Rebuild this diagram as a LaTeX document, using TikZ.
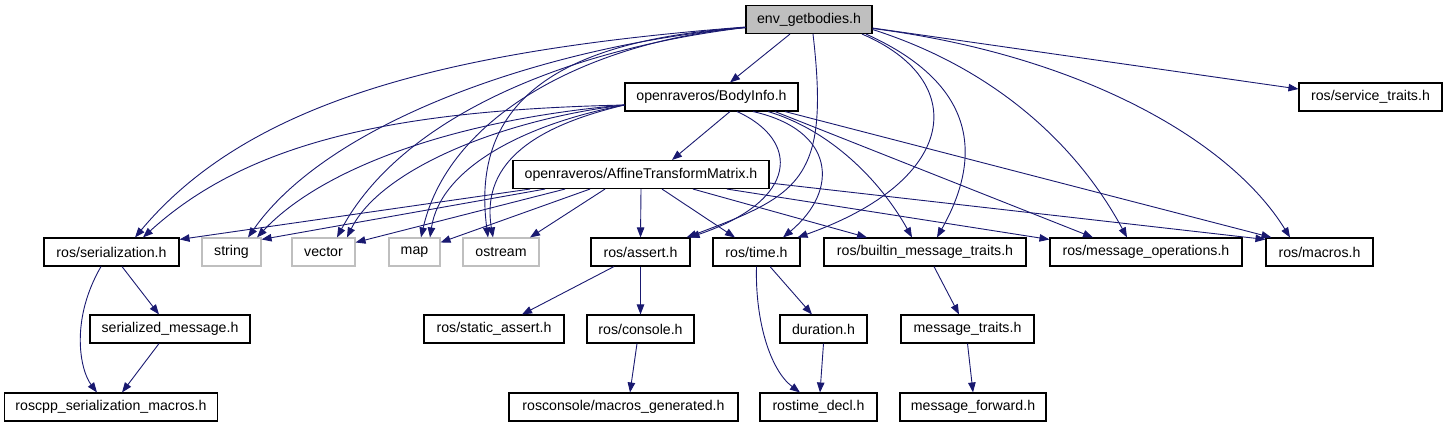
\documentclass[tikz,border=0pt]{standalone}
\usepackage{fontspec}
\setmainfont{Liberation Sans}
\usetikzlibrary{arrows.meta}
\definecolor{edgeblue}{HTML}{191970}
\definecolor{lightgray}{HTML}{BFBFBF}
\tikzset{hdr/.style={draw=black, line width=1.1bp, fill=white, minimum height=28bp, inner sep=0pt, font=\fontsize{14.2}{16}\selectfont}}
\tikzset{sys/.style={hdr, draw=lightgray}}
\tikzset{topfile/.style={hdr, fill=lightgray}}
\tikzset{inc/.style={-{Triangle[length=10bp,width=7.5bp]}, draw=edgeblue, line width=0.9bp}}

\begin{document}
\begin{tikzpicture}[x=1bp, y=-1bp]
\useasboundingbox (0,0) rectangle (1447,427);

\node[topfile, minimum width=126bp] (env) at (809,19.5) {env\_getbodies.h};
\node[hdr, minimum width=173bp] (body) at (711.5,97) {openraveros/BodyInfo.h};
\node[hdr, minimum width=143bp] (svc) at (1370.5,97) {ros/service\_traits.h};
\node[hdr, minimum width=256bp] (aff) at (641,174.5) {openraveros/AffineTransformMatrix.h};

\node[hdr, minimum width=135bp] (ser) at (111.5,252) {ros/serialization.h};
\node[sys, minimum width=59bp] (str) at (231.5,252) {string};
\node[sys, minimum width=63bp] (vec) at (323.5,252) {vector};
\node[sys, minimum width=51bp] (map) at (414.5,252) {map};
\node[sys, minimum width=76bp] (ost) at (501,252) {ostream};
\node[hdr, minimum width=99bp] (ast) at (640.5,252) {ros/assert.h};
\node[hdr, minimum width=87bp] (time) at (756.5,252) {ros/time.h};
\node[hdr, minimum width=202bp] (bmt) at (925,252) {ros/builtin\_message\_traits.h};
\node[hdr, minimum width=192bp] (mop) at (1146,252) {ros/message\_operations.h};
\node[hdr, minimum width=107bp] (mac) at (1319.5,252) {ros/macros.h};

\node[hdr, minimum width=160bp] (sermsg) at (170,329) {serialized\_message.h};
\node[hdr, minimum width=140bp] (sas) at (494,329) {ros/static\_assert.h};
\node[hdr, minimum width=107bp] (con) at (640.5,329) {ros/console.h};
\node[hdr, minimum width=87bp] (dur) at (823.5,329) {duration.h};
\node[hdr, minimum width=133bp] (mtr) at (967.5,329) {message\_traits.h};

\node[hdr, minimum width=213bp] (rsm) at (111,407) {roscpp\_serialization\_macros.h};
\node[hdr, minimum width=229bp] (rmg) at (623.5,407) {rosconsole/macros\_generated.h};
\node[hdr, minimum width=117bp] (rtd) at (818.5,407) {rostime\_decl.h};
\node[hdr, minimum width=146bp] (mfw) at (973,407) {message\_forward.h};

% env_getbodies.h
\draw[inc] ([xshift=-19bp]env.south) -- ([xshift=18.5bp]body.north);
\draw[inc] ([yshift=-8.5bp]env.east) -- ([yshift=8bp]svc.west);
\draw[inc] ([yshift=-7.5bp]env.west) .. controls (450,50) and (250,100) .. ([xshift=23.5bp]ser.north);
\draw[inc] ([yshift=-8bp]env.west) .. controls (550,45) and (330,120) .. ([xshift=16.5bp]str.north);
\draw[inc] ([yshift=-8bp]env.west) .. controls (560,50) and (400,120) .. ([xshift=13.5bp]vec.north);
\draw[inc] ([yshift=-8bp]env.west) .. controls (600,40) and (450,110) .. ([xshift=6.5bp]map.north);
\draw[inc] ([yshift=-8bp]env.west) .. controls (560,40) and (470,100) .. ([xshift=-13bp]ost.north);
\draw[inc] ([xshift=4bp]env.south) .. controls (830,180) and (800,195) .. ([xshift=-4bp]ast.north east);
\draw[inc] ([xshift=53bp]env.south) .. controls (970,80) and (960,180) .. ([xshift=-3bp]time.north east);
\draw[inc] ([xshift=57bp]env.south) .. controls (990,90) and (975,170) .. ([xshift=12bp]bmt.north);
\draw[inc] ([yshift=-10bp]env.east) .. controls (1000,70) and (1080,150) .. ([xshift=-19bp]mop.north);
\draw[inc] ([yshift=-9bp]env.east) .. controls (1080,55) and (1230,140) .. ([xshift=-29.5bp]mac.north);

% BodyInfo.h
\draw[inc] ([xshift=18.5bp]body.south) -- ([xshift=31bp]aff.north);
\draw[inc] ([yshift=-8bp]body.west) .. controls (400,110) and (250,140) .. ([xshift=31.5bp]ser.north);
\draw[inc] ([yshift=-8bp]body.west) .. controls (450,120) and (320,170) .. ([xshift=25.5bp]str.north);
\draw[inc] ([yshift=-8bp]body.west) .. controls (500,120) and (380,170) .. ([xshift=23.5bp]vec.north);
\draw[inc] ([yshift=-8bp]body.west) .. controls (520,125) and (440,170) .. ([xshift=15.5bp]map.north);
\draw[inc] ([yshift=-8bp]body.west) .. controls (540,125) and (480,160) .. ([xshift=-8bp]ost.north);
\draw[inc] ([xshift=25.5bp]body.south) .. controls (800,140) and (800,200) .. ([xshift=-1bp]ast.north east);
\draw[inc] ([xshift=41.5bp]body.south) .. controls (835,130) and (840,190) .. ([xshift=26.5bp]time.north);
\draw[inc] ([xshift=56.5bp]body.south) .. controls (830,130) and (880,180) .. ([xshift=-13bp]bmt.north);
\draw[inc] ([xshift=63.5bp]body.south) -- ([xshift=-53bp]mop.north);
\draw[inc] ([xshift=73.5bp]body.south) -- ([xshift=6bp]mac.north west);

% AffineTransformMatrix.h
\draw[inc] ([xshift=-111bp]aff.south) -- ([yshift=-2bp]ser.north east);
\draw[inc] ([xshift=-96bp]aff.south) -- ([yshift=-2bp]str.north east);
\draw[inc] ([xshift=-76bp]aff.south) -- ([yshift=-5bp]vec.north east);
\draw[inc] ([xshift=-51bp]aff.south) -- ([yshift=-5bp]map.north east);
\draw[inc] ([xshift=-36bp]aff.south) -- ([xshift=29bp]ost.north);
\draw[inc] (aff.south) -- (ast.north);
\draw[inc] ([xshift=21bp]aff.south) -- ([xshift=-21.5bp]time.north);
\draw[inc] ([xshift=52bp]aff.south) -- ([xshift=-58bp]bmt.north);
\draw[inc] ([xshift=86bp]aff.south) -- ([yshift=-2bp]mop.north west);
\draw[inc] ([yshift=-8.5bp]aff.east) -- ([yshift=-2bp]mac.north west);

% lower levels
\draw[inc] ([xshift=10.5bp]ser.south) -- ([xshift=-11bp]sermsg.north);
\draw[inc] ([xshift=-10.5bp]ser.south) .. controls (70,320) and (80,370) .. ([xshift=-14bp]rsm.north);
\draw[inc] ([xshift=-11bp]sermsg.south) -- ([xshift=11bp]rsm.north);
\draw[inc] ([xshift=-26.5bp]ast.south) -- ([xshift=28bp]sas.north);
\draw[inc] (ast.south) -- (con.north);
\draw[inc] ([xshift=-3.5bp]con.south) -- ([xshift=6.5bp]rmg.north);
\draw[inc] ([xshift=13.5bp]time.south) -- ([xshift=-11.5bp]dur.north);
\draw[inc] (time.south) .. controls (755,320) and (770,370) .. ([xshift=-18.5bp]rtd.north);
\draw[inc] (dur.south) -- ([xshift=1.5bp]rtd.north);
\draw[inc] ([xshift=9bp]bmt.south) -- ([xshift=-8.5bp]mtr.north);
\draw[inc] (mtr.south) -- (mfw.north);
\end{tikzpicture}
\end{document}
